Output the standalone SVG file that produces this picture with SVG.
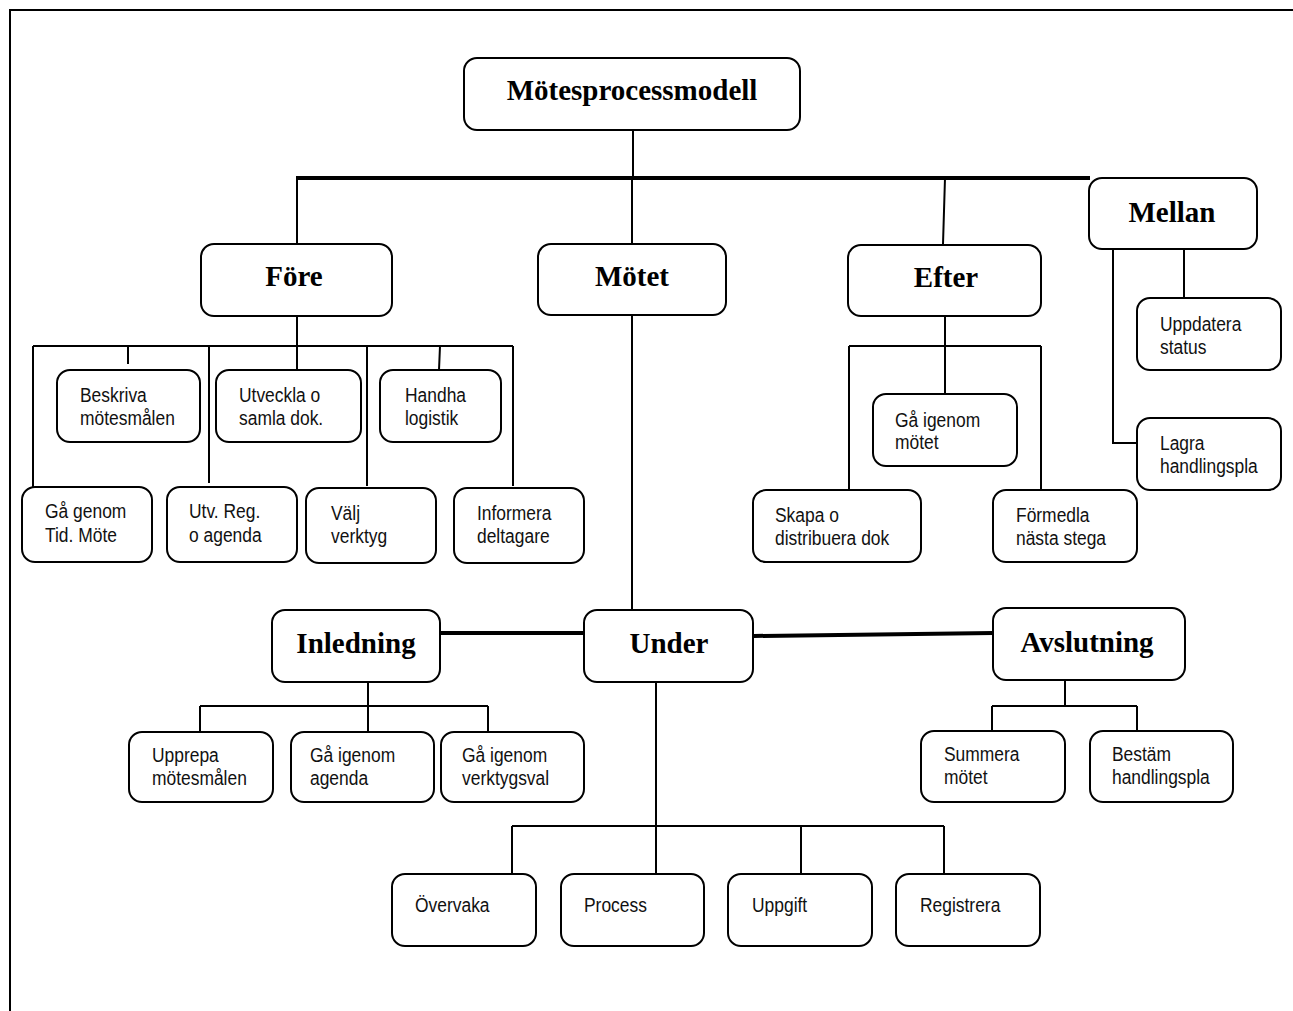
<svg xmlns="http://www.w3.org/2000/svg" width="1293" height="1011" viewBox="0 0 1293 1011">
<style>
.b{fill:#fff;stroke:#000;stroke-width:2}
.t{font-family:"Times New Roman","Liberation Serif",serif;font-weight:bold;font-size:29px;fill:#000;text-anchor:middle}
.s{font-family:"Liberation Sans",Arial,sans-serif;font-size:21px;fill:#111}
.c{fill:none;stroke:#000;stroke-width:2}
.k{fill:none;stroke:#000;stroke-width:4}
</style>
<rect width="1293" height="1011" fill="#fff"/>
<path d="M10 1011V10H1293" fill="none" stroke="#000" stroke-width="2"/>
<g id="connectors">
<path class="c" d="M633 130V178" stroke-width="3"/>
<path class="k" d="M296 178H1090"/>
<path class="c" d="M297 178V244M632 178V244M945 178L943 244" stroke-width="3"/>
<path class="c" d="M297 316V346M33 346H513M33 346V490M128 346V364M209 346V483M297 346V370M367 346V486M440 346L439 370M513 346V486"/>
<path class="c" d="M945 316V394M849 346H1041M849 346V490M1041 346V490"/>
<path class="c" d="M1184 250V298M1113 250V443H1137"/>
<path class="c" d="M632 316V610" stroke-width="3"/>
<path class="k" d="M440 633H584M754 636L993 633"/>
<path class="c" d="M368 682V706M200 706H488M200 706V732M368 706V732M488 706V732"/>
<path class="c" d="M656 682V874M512 826H944M512 826V874M801 826V874M944 826V874"/>
<path class="c" d="M1065 680V706M992 706H1137M992 706V731M1137 706V731"/>
</g>
<g id="n-main"><rect class="b" x="464" y="58" width="336" height="72" rx="13"/><text class="t" x="632" y="100" font-size="30">Mötesprocessmodell</text></g>
<g id="n-fore"><rect class="b" x="201" y="244" width="191" height="72" rx="13"/><text class="t" x="294" y="286">Före</text></g>
<g id="n-motet"><rect class="b" x="538" y="244" width="188" height="71" rx="13"/><text class="t" x="632" y="286">Mötet</text></g>
<g id="n-efter"><rect class="b" x="848" y="245" width="193" height="71" rx="13"/><text class="t" x="946" y="287">Efter</text></g>
<g id="n-mellan"><rect class="b" x="1089" y="178" width="168" height="71" rx="13"/><text class="t" x="1172" y="222">Mellan</text></g>
<g id="n-beskriva"><rect class="b" x="57" y="370" width="143" height="72" rx="13"/><text class="s" transform="matrix(.83 0 0 1 80 0)"><tspan x="0" y="402">Beskriva</tspan><tspan x="0" y="425">mötesmålen</tspan></text></g>
<g id="n-utveckla"><rect class="b" x="216" y="370" width="145" height="72" rx="13"/><text class="s" transform="matrix(.83 0 0 1 239 0)"><tspan x="0" y="402">Utveckla o</tspan><tspan x="0" y="425">samla dok.</tspan></text></g>
<g id="n-handha"><rect class="b" x="380" y="370" width="121" height="72" rx="13"/><text class="s" transform="matrix(.83 0 0 1 405 0)"><tspan x="0" y="402">Handha</tspan><tspan x="0" y="425">logistik</tspan></text></g>
<g id="n-gagenom"><rect class="b" x="22" y="487" width="130" height="75" rx="13"/><text class="s" transform="matrix(.83 0 0 1 45 0)"><tspan x="0" y="518">Gå genom</tspan><tspan x="0" y="542">Tid. Möte</tspan></text></g>
<g id="n-utvreg"><rect class="b" x="167" y="487" width="130" height="75" rx="13"/><text class="s" transform="matrix(.83 0 0 1 189 0)"><tspan x="0" y="518">Utv. Reg.</tspan><tspan x="0" y="542">o agenda</tspan></text></g>
<g id="n-valj"><rect class="b" x="306" y="488" width="130" height="75" rx="13"/><text class="s" transform="matrix(.83 0 0 1 331 0)"><tspan x="0" y="520">Välj</tspan><tspan x="0" y="543">verktyg</tspan></text></g>
<g id="n-informera"><rect class="b" x="454" y="488" width="130" height="75" rx="13"/><text class="s" transform="matrix(.83 0 0 1 477 0)"><tspan x="0" y="520">Informera</tspan><tspan x="0" y="543">deltagare</tspan></text></g>
<g id="n-gaigenommotet"><rect class="b" x="873" y="394" width="144" height="72" rx="13"/><text class="s" transform="matrix(.83 0 0 1 895 0)"><tspan x="0" y="427">Gå igenom</tspan><tspan x="0" y="449">mötet</tspan></text></g>
<g id="n-skapa"><rect class="b" x="753" y="490" width="168" height="72" rx="13"/><text class="s" transform="matrix(.83 0 0 1 775 0)"><tspan x="0" y="522">Skapa o</tspan><tspan x="0" y="545">distribuera dok</tspan></text></g>
<g id="n-formedla"><rect class="b" x="993" y="490" width="144" height="72" rx="13"/><text class="s" transform="matrix(.83 0 0 1 1016 0)"><tspan x="0" y="522">Förmedla</tspan><tspan x="0" y="545">nästa stega</tspan></text></g>
<g id="n-uppdatera"><rect class="b" x="1137" y="298" width="144" height="72" rx="13"/><text class="s" transform="matrix(.83 0 0 1 1160 0)"><tspan x="0" y="331">Uppdatera</tspan><tspan x="0" y="354">status</tspan></text></g>
<g id="n-lagra"><rect class="b" x="1137" y="418" width="144" height="72" rx="13"/><text class="s" transform="matrix(.83 0 0 1 1160 0)"><tspan x="0" y="450">Lagra</tspan><tspan x="0" y="473">handlingspla</tspan></text></g>
<g id="n-inledning"><rect class="b" x="272" y="610" width="168" height="72" rx="13"/><text class="t" x="356" y="653">Inledning</text></g>
<g id="n-under"><rect class="b" x="584" y="610" width="169" height="72" rx="13"/><text class="t" x="669" y="653">Under</text></g>
<g id="n-avslutning"><rect class="b" x="993" y="608" width="192" height="72" rx="13"/><text class="t" x="1087" y="652">Avslutning</text></g>
<g id="n-upprepa"><rect class="b" x="129" y="732" width="144" height="70" rx="13"/><text class="s" transform="matrix(.83 0 0 1 152 0)"><tspan x="0" y="762">Upprepa</tspan><tspan x="0" y="785">mötesmålen</tspan></text></g>
<g id="n-agenda"><rect class="b" x="291" y="732" width="143" height="70" rx="13"/><text class="s" transform="matrix(.83 0 0 1 310 0)"><tspan x="0" y="762">Gå igenom</tspan><tspan x="0" y="785">agenda</tspan></text></g>
<g id="n-verktygsval"><rect class="b" x="441" y="732" width="143" height="70" rx="13"/><text class="s" transform="matrix(.83 0 0 1 462 0)"><tspan x="0" y="762">Gå igenom</tspan><tspan x="0" y="785">verktygsval</tspan></text></g>
<g id="n-summera"><rect class="b" x="921" y="731" width="144" height="71" rx="13"/><text class="s" transform="matrix(.83 0 0 1 944 0)"><tspan x="0" y="761">Summera</tspan><tspan x="0" y="784">mötet</tspan></text></g>
<g id="n-bestam"><rect class="b" x="1090" y="731" width="143" height="71" rx="13"/><text class="s" transform="matrix(.83 0 0 1 1112 0)"><tspan x="0" y="761">Bestäm</tspan><tspan x="0" y="784">handlingspla</tspan></text></g>
<g id="n-overvaka"><rect class="b" x="392" y="874" width="144" height="72" rx="13"/><text class="s" transform="matrix(.83 0 0 1 415 0)" y="912">Övervaka</text></g>
<g id="n-process"><rect class="b" x="561" y="874" width="143" height="72" rx="13"/><text class="s" transform="matrix(.83 0 0 1 584 0)" y="912">Process</text></g>
<g id="n-uppgift"><rect class="b" x="728" y="874" width="144" height="72" rx="13"/><text class="s" transform="matrix(.83 0 0 1 752 0)" y="912">Uppgift</text></g>
<g id="n-registrera"><rect class="b" x="896" y="874" width="144" height="72" rx="13"/><text class="s" transform="matrix(.83 0 0 1 920 0)" y="912">Registrera</text></g>
</svg>
